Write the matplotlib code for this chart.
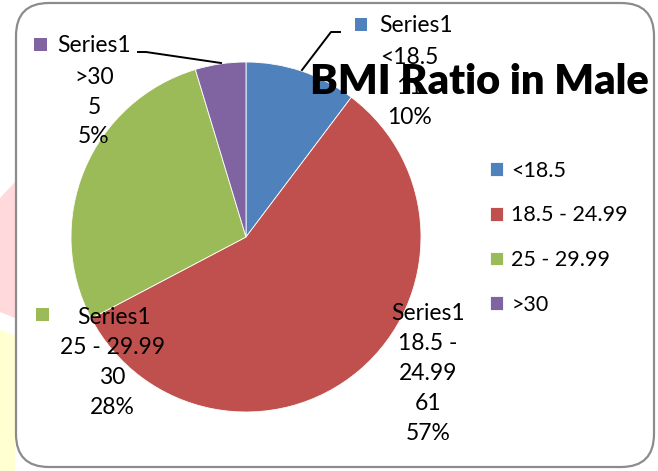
import matplotlib
matplotlib.use("Agg")
import matplotlib.pyplot as plt
from matplotlib.patches import FancyBboxPatch, Polygon
from matplotlib.lines import Line2D

# =========================
# DATA
# =========================

categories = ["<18.5", "18.5 - 24.99", "25 - 29.99", ">30"]
values = [11, 61, 30, 5]
series_name = "Series1"
colors = ["#4F81BD", "#C0504D", "#9BBB59", "#8064A2"]
title = "BMI Ratio in Male"

W, H = 658, 471
FONT = "Lato"
LABEL_SIZE = 16.5
LEGEND_SIZE = 15.5
TITLE_SIZE = 30


def fx(x):
    return x / W


def fy(y):
    return 1 - y / H


fig = plt.figure(figsize=(W / 100, H / 100), dpi=100)
fig.patch.set_facecolor("white")

# background bits outside the chart frame
fig.patches.append(Polygon([(fx(0), fy(198)), (fx(15), fy(182)), (fx(15), fy(318)),
                            (fx(0), fy(312))], closed=True, transform=fig.transFigure,
                           facecolor="#FFD9DC", edgecolor="none", zorder=-2))
fig.patches.append(Polygon([(fx(0), fy(330)), (fx(15), fy(335)), (fx(15), fy(471)),
                            (fx(0), fy(471))], closed=True, transform=fig.transFigure,
                           facecolor="#FFFFD2", edgecolor="none", zorder=-2))

# chart frame
frame = FancyBboxPatch((fx(16), fy(467)), fx(638), 464 / H,
                       boxstyle="round,pad=0,rounding_size=0.05",
                       transform=fig.transFigure, facecolor="white",
                       edgecolor="#8C8C8C", linewidth=1.6,
                       mutation_aspect=W / H, zorder=-1)
fig.patches.append(frame)

# =========================
# PIE
# =========================

cx, cy, r = 246, 237, 175
ax = fig.add_axes([fx(cx - r), fy(cy + r), 2 * r / W, 2 * r / H])
ax.set_zorder(1)
wedges, _ = ax.pie(values, colors=colors, startangle=90, counterclock=False,
                   wedgeprops=dict(edgecolor="white", linewidth=0.6))
ax.set_xlim(-1, 1)
ax.set_ylim(-1, 1)
ax.set_aspect("auto")
ax.axis("off")

total = sum(values)
pcts = [f"{round(v / total * 100)}%" for v in values]

# =========================
# DATA LABELS (drawn on top of the pie)
# =========================


def label_lines(x, y0, lines, step=30):
    for i, s in enumerate(lines):
        ax.text(fx(x), fy(y0 + i * step), s, ha="center", va="center",
                fontsize=LABEL_SIZE, family=FONT, color="black",
                transform=fig.transFigure, zorder=4, clip_on=False)


def series_text(x, y):
    ax.text(fx(x), fy(y), series_name, ha="left", va="center",
            fontsize=LABEL_SIZE, family=FONT, transform=fig.transFigure,
            zorder=4, clip_on=False)


def marker(x, y, c):
    ax.add_patch(FancyBboxPatch((fx(x - 6.5), fy(y + 6.5)), 13 / W, 13 / H,
                                boxstyle="square,pad=0",
                                transform=fig.transFigure, clip_on=False,
                                facecolor=c, edgecolor="none", zorder=4))


def leader(xs, ys):
    ax.add_line(Line2D([fx(v) for v in xs], [fy(v) for v in ys],
                       transform=fig.transFigure, color="black",
                       linewidth=1.4, clip_on=False, zorder=4))


# <18.5
marker(361, 24, colors[0])
series_text(379, 26)
label_lines(409, 57, [categories[0], str(values[0]), pcts[0]])
leader([340, 331, 302], [32, 32, 70])

# >30
marker(40, 44, colors[3])
series_text(57, 46)
label_lines(94, 77, [categories[3], str(values[3]), pcts[3]])
leader([138, 146, 221], [52, 52, 63])

# 25 - 29.99
marker(42, 314, colors[2])
series_text(77, 317)
label_lines(112, 347, [categories[2], str(values[2]), pcts[2]])

# 18.5 - 24.99
lo, hi = categories[1].split(" - ")
label_lines(428, 313, [series_name, lo + " -", hi, str(values[1]), pcts[1]])

# =========================
# TITLE AND LEGEND
# =========================

ax.text(fx(479), fy(82), title, ha="center", va="center",
        fontsize=TITLE_SIZE, family=FONT, fontweight="heavy",
        transform=fig.transFigure, zorder=6, clip_on=False)

fig.legend(wedges, categories, loc="upper left",
           bbox_to_anchor=(fx(481), fy(152)), frameon=False,
           prop=dict(family=FONT, size=LEGEND_SIZE),
           handlelength=0.6, handleheight=0.6, handletextpad=0.4,
           labelspacing=1.15, borderaxespad=0)

fig.savefig("out.png", dpi=100)
